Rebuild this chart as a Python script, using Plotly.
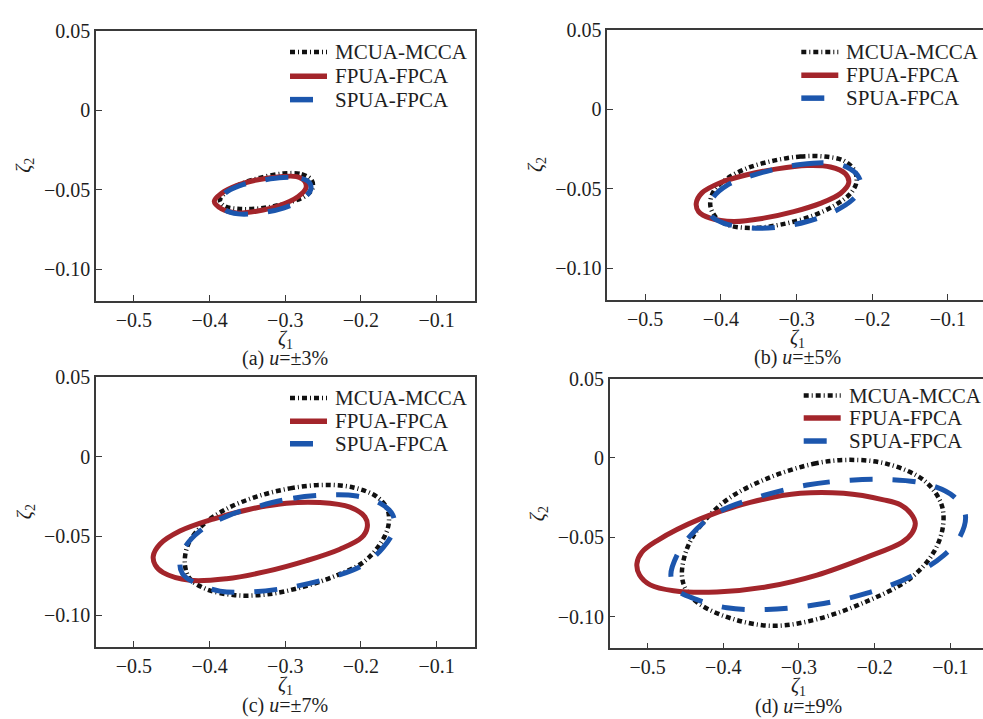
import plotly.graph_objects as go

# ---------------- data ----------------
X_TICKS = [-0.5, -0.4, -0.3, -0.2, -0.1]
X_TICK_TEXT = ["−0.5", "−0.4", "−0.3", "−0.2", "−0.1"]
Y_TICKS = [0.05, 0.0, -0.05, -0.10]
Y_TICK_TEXT = ["0.05", "0", "−0.05", "−0.10"]
SERIES = ["MCUA-MCCA", "FPUA-FPCA", "SPUA-FPCA"]
CAPTIONS = ["(a) <i>u</i>=±3%", "(b) <i>u</i>=±5%", "(c) <i>u</i>=±7%", "(d) <i>u</i>=±9%"]

# panel (a) u=±3%
a_mcua_x = [-0.3863, -0.3797, -0.3599, -0.3335, -0.3026, -0.2784, -0.2652, -0.2639, -0.2740, -0.2982, -0.3291, -0.3599, -0.3797]
a_mcua_y = [-0.0570, -0.0523, -0.0467, -0.0426, -0.0399, -0.0403, -0.0440, -0.0492, -0.0543, -0.0585, -0.0616, -0.0622, -0.0605]
a_fpua_x = [-0.3938, -0.3841, -0.3643, -0.3379, -0.3070, -0.2850, -0.2740, -0.2727, -0.2828, -0.3070, -0.3379, -0.3643, -0.3841]
a_fpua_y = [-0.0574, -0.0523, -0.0475, -0.0440, -0.0419, -0.0419, -0.0450, -0.0492, -0.0543, -0.0599, -0.0636, -0.0647, -0.0622]
a_spua_x = [-0.3855, -0.3797, -0.3599, -0.3335, -0.3026, -0.2784, -0.2674, -0.2665, -0.2784, -0.3026, -0.3335, -0.3621, -0.3797]
a_spua_y = [-0.0579, -0.0523, -0.0475, -0.0444, -0.0424, -0.0430, -0.0461, -0.0502, -0.0564, -0.0616, -0.0647, -0.0653, -0.0626]

# panel (b) u=±5%
b_mcua_x = [-0.4140, -0.4096, -0.3920, -0.3655, -0.3302, -0.2949, -0.2641, -0.2376, -0.2235, -0.2208, -0.2288, -0.2486, -0.2817, -0.3214, -0.3611, -0.3920, -0.4074]
b_mcua_y = [-0.0603, -0.0517, -0.0438, -0.0372, -0.0324, -0.0298, -0.0298, -0.0324, -0.0386, -0.0459, -0.0531, -0.0603, -0.0676, -0.0727, -0.0748, -0.0727, -0.0676]
b_fpua_x = [-0.4325, -0.4250, -0.4008, -0.3655, -0.3258, -0.2861, -0.2552, -0.2354, -0.2310, -0.2420, -0.2685, -0.3037, -0.3434, -0.3831, -0.4140, -0.4294]
b_fpua_y = [-0.0593, -0.0527, -0.0463, -0.0413, -0.0376, -0.0355, -0.0364, -0.0407, -0.0463, -0.0531, -0.0593, -0.0645, -0.0686, -0.0707, -0.0686, -0.0645]
b_spua_x = [-0.4149, -0.4096, -0.3920, -0.3655, -0.3302, -0.2949, -0.2597, -0.2332, -0.2178, -0.2155, -0.2266, -0.2508, -0.2861, -0.3258, -0.3611, -0.3964, -0.4118]
b_spua_y = [-0.0624, -0.0552, -0.0479, -0.0428, -0.0380, -0.0349, -0.0339, -0.0366, -0.0428, -0.0500, -0.0572, -0.0645, -0.0707, -0.0744, -0.0748, -0.0717, -0.0676]

# panel (c) u=±7%
c_mcua_x = [-0.4326, -0.4282, -0.4084, -0.3775, -0.3379, -0.2938, -0.2498, -0.2101, -0.1793, -0.1648, -0.1639, -0.1749, -0.1969, -0.2322, -0.2762, -0.3247, -0.3687, -0.4040, -0.4260]
c_mcua_y = [-0.0676, -0.0552, -0.0428, -0.0329, -0.0252, -0.0200, -0.0178, -0.0194, -0.0252, -0.0335, -0.0438, -0.0552, -0.0665, -0.0748, -0.0820, -0.0868, -0.0872, -0.0835, -0.0769]
c_fpua_x = [-0.4744, -0.4656, -0.4392, -0.3952, -0.3467, -0.2982, -0.2542, -0.2145, -0.1947, -0.1916, -0.1991, -0.2278, -0.2718, -0.3247, -0.3775, -0.4260, -0.4612, -0.4718]
c_fpua_y = [-0.0628, -0.0552, -0.0469, -0.0393, -0.0331, -0.0293, -0.0289, -0.0318, -0.0380, -0.0442, -0.0510, -0.0583, -0.0655, -0.0723, -0.0769, -0.0779, -0.0731, -0.0682]
c_spua_x = [-0.4392, -0.4326, -0.4128, -0.3775, -0.3335, -0.2894, -0.2454, -0.2057, -0.1749, -0.1581, -0.1564, -0.1705, -0.1969, -0.2366, -0.2894, -0.3423, -0.3863, -0.4216, -0.4357]
c_spua_y = [-0.0676, -0.0572, -0.0469, -0.0376, -0.0310, -0.0262, -0.0242, -0.0248, -0.0293, -0.0366, -0.0459, -0.0572, -0.0682, -0.0758, -0.0820, -0.0851, -0.0847, -0.0789, -0.0738]

# panel (d) u=±9%
d_mcua_x = [-0.4546, -0.4480, -0.4304, -0.3952, -0.3423, -0.2806, -0.2344, -0.1837, -0.1352, -0.1123, -0.1097, -0.1220, -0.1529, -0.2101, -0.2762, -0.3335, -0.3863, -0.4304, -0.4480]
d_mcua_y = [-0.0738, -0.0573, -0.0429, -0.0264, -0.0130, -0.0037, -0.0012, -0.0037, -0.0140, -0.0285, -0.0429, -0.0594, -0.0759, -0.0903, -0.1016, -0.1058, -0.1016, -0.0924, -0.0841]
d_fpua_x = [-0.5141, -0.5075, -0.4877, -0.4304, -0.3643, -0.2982, -0.2410, -0.1881, -0.1661, -0.1520, -0.1463, -0.1507, -0.1639, -0.2101, -0.2762, -0.3423, -0.4084, -0.4656, -0.4965, -0.5106]
d_fpua_y = [-0.0666, -0.0594, -0.0522, -0.0384, -0.0280, -0.0223, -0.0223, -0.0264, -0.0295, -0.0351, -0.0412, -0.0474, -0.0532, -0.0625, -0.0738, -0.0812, -0.0845, -0.0837, -0.0800, -0.0738]
d_spua_x = [-0.4692, -0.4612, -0.4436, -0.4084, -0.3511, -0.2894, -0.2322, -0.1837, -0.1308, -0.0956, -0.0802, -0.0868, -0.1088, -0.1529, -0.2101, -0.2762, -0.3423, -0.3952, -0.4348, -0.4612]
d_spua_y = [-0.0738, -0.0614, -0.0491, -0.0346, -0.0243, -0.0171, -0.0140, -0.0136, -0.0165, -0.0243, -0.0357, -0.0491, -0.0614, -0.0748, -0.0852, -0.0924, -0.0955, -0.0944, -0.0893, -0.0831]

PANEL_DATA = [
    [(a_mcua_x, a_mcua_y), (a_fpua_x, a_fpua_y), (a_spua_x, a_spua_y)],
    [(b_mcua_x, b_mcua_y), (b_fpua_x, b_fpua_y), (b_spua_x, b_spua_y)],
    [(c_mcua_x, c_mcua_y), (c_fpua_x, c_fpua_y), (c_spua_x, c_spua_y)],
    [(d_mcua_x, d_mcua_y), (d_fpua_x, d_fpua_y), (d_spua_x, d_spua_y)],
]

# ---------------- styling / layout ----------------
W, H = 983, 719
FONT = "Liberation Serif"
TXT = "#1e1e1e"
AX = "#3a3a3a"
STYLES = [
    dict(color="#111111", width=4.5, dash="5px,3px,1px,3px"),
    dict(color="#a3252b", width=5, dash="solid"),
    dict(color="#1c56ad", width=5, dash="23px,20px"),
]

# pixel geometry of each axes box
PANELS = [
    dict(left=96.0, right=474.5, top=20.0, bottom=294.3, mirror=True,
         leg_rows=[41.7, 66.3, 90.0]),
    dict(left=607.3, right=983.0, top=19.0, bottom=293.3, mirror=False,
         leg_rows=[41.7, 65.3, 88.5]),
    dict(left=96.0, right=474.5, top=372.0, bottom=646.0, mirror=True,
         leg_rows=[393.0, 416.7, 439.5]),
    dict(left=609.7, right=983.0, top=373.3, bottom=647.3, mirror=False,
         leg_rows=[390.5, 413.3, 436.7]),
]
PX_PER_UNIT = 757.0
X_MIN = -0.55


def fx(p):
    return p / W


def fy(p):
    return 1 - p / H


def closed(xs, ys, start=4):
    xs = list(xs[start:]) + list(xs[:start])
    ys = list(ys[start:]) + list(ys[:start])
    return xs + [xs[0]], ys + [ys[0]]


fig = go.Figure()
layout = dict(
    width=W, height=H,
    margin=dict(l=0, r=0, t=0, b=0),
    paper_bgcolor="white", plot_bgcolor="white",
    showlegend=False,
    font=dict(family=FONT, size=20, color=TXT),
)
annotations = []
shapes = []

for i, (pan, series) in enumerate(zip(PANELS, PANEL_DATA)):
    k = "" if i == 0 else str(i + 1)
    width_px = pan["right"] - pan["left"]
    x_max = X_MIN + width_px / PX_PER_UNIT
    layout["xaxis" + k] = dict(
        domain=[fx(pan["left"]), fx(pan["right"])],
        range=[X_MIN, x_max], anchor="y" + k,
        tickvals=X_TICKS, ticktext=X_TICK_TEXT,
        ticks="inside", ticklen=6, tickwidth=1.3, tickcolor=AX,
        showline=True, linecolor=AX, linewidth=1.5, mirror=True,
        showgrid=False, zeroline=False,
        tickfont=dict(family=FONT, size=20, color=TXT),
    )
    layout["yaxis" + k] = dict(
        domain=[fy(pan["bottom"]), fy(pan["top"])],
        range=[-0.12, 0.05], anchor="x" + k,
        tickvals=Y_TICKS, ticktext=Y_TICK_TEXT,
        ticks="inside", ticklen=6, tickwidth=1.3, tickcolor=AX,
        showline=True, linecolor=AX, linewidth=1.5, mirror=pan["mirror"],
        showgrid=False, zeroline=False,
        tickfont=dict(family=FONT, size=20, color=TXT),
    )
    for (xs, ys), name, st in zip(series, SERIES, STYLES):
        cx, cy = closed(xs, ys)
        fig.add_trace(go.Scatter(
            x=cx, y=cy, mode="lines", name=name,
            xaxis="x" + k, yaxis="y" + k,
            line=dict(color=st["color"], width=st["width"], dash=st["dash"],
                      shape="spline", smoothing=1.0),
            hoverinfo="skip",
        ))
    # manual legend
    sx0 = pan["left"] + 194
    for j, (name, st, row) in enumerate(zip(SERIES, STYLES, pan["leg_rows"])):
        sx1 = sx0 + (23 if j == 2 else 37)
        shapes.append(dict(
            type="line", xref="paper", yref="paper",
            x0=fx(sx0), x1=fx(sx1), y0=fy(row), y1=fy(row),
            line=dict(color=st["color"], width=st["width"] + (0.5 if j else 0),
                      dash="solid" if j == 2 else st["dash"]),
        ))
        annotations.append(dict(
            text=name, xref="paper", yref="paper",
            x=fx(pan["left"] + 237), y=fy(row), xanchor="left", yanchor="middle",
            showarrow=False, font=dict(family=FONT, size=21, color=TXT),
        ))
    cxp = (pan["left"] + pan["right"] + (0 if pan["mirror"] else 4.8)) / 2
    # x axis title
    annotations.append(dict(
        text="<i>ζ</i><sub>1</sub>", xref="paper", yref="paper",
        x=fx(cxp), y=fy(pan["bottom"] + 39), xanchor="center", yanchor="middle",
        showarrow=False, font=dict(family=FONT, size=20, color=TXT),
    ))
    # y axis title
    annotations.append(dict(
        text="<i>ζ</i><sub>2</sub>", xref="paper", yref="paper", textangle=-90,
        x=fx(pan["left"] - 71), y=fy((pan["top"] + pan["bottom"]) / 2),
        xanchor="center", yanchor="middle",
        showarrow=False, font=dict(family=FONT, size=20, color=TXT),
    ))
    # caption
    annotations.append(dict(
        text=CAPTIONS[i], xref="paper", yref="paper",
        x=fx(cxp), y=fy(pan["bottom"] + 59), xanchor="center", yanchor="middle",
        showarrow=False, font=dict(family=FONT, size=20, color=TXT),
    ))

layout["annotations"] = annotations
layout["shapes"] = shapes
fig.update_layout(**layout)
fig.write_html(
    "out.html",
    post_script="document.body.style.margin='0';document.body.style.overflow='hidden';",
)
